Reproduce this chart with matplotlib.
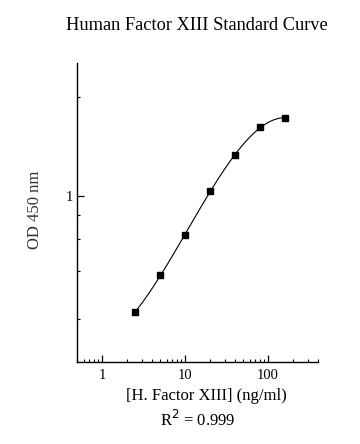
import numpy as np
import matplotlib
matplotlib.use("Agg")
from matplotlib import pyplot as plt
from matplotlib.ticker import FixedLocator, NullFormatter, LogLocator

# standard points (ng/ml) and OD 450 nm readings
conc = [2.5, 5, 10, 20, 40, 80, 160]
od = [0.25, 0.389, 0.629, 1.06, 1.64, 2.28, 2.56]

x_ticks = [1, 10, 100]
x_labels = ["1", "10", "100"]
y_major = [1]
y_minor = [0.23, 0.41, 0.6, 0.8, 3.3]

plt.rcParams['font.family'] = ['Liberation Serif', 'DejaVu Serif']

fig = plt.figure(figsize=(3.6, 4.44), dpi=100)
ax = fig.add_axes([0.2147, 0.1854, 0.6683, 0.6734])

# fitted curve (cubic in log-log space)
lx = np.log10(conc)
ly = np.log10(od)
coef = np.polyfit(lx, ly, 3)
xs = np.linspace(lx[0], lx[-1], 200)
ax.plot(10 ** xs, 10 ** np.polyval(coef, xs), color='black', lw=0.8)
ax.plot(conc, od, 's', color='black', markersize=4.3)

ax.set_xscale('log')
ax.set_yscale('log')
ax.set_xlim(0.5, 400)
ax.set_ylim(0.138, 4.95)

ax.set_xticks(x_ticks)
ax.set_xticklabels(x_labels)
ax.xaxis.set_minor_locator(LogLocator(base=10, subs=np.arange(2, 10)))
ax.xaxis.set_minor_formatter(NullFormatter())

ax.yaxis.set_major_locator(FixedLocator(y_major))
ax.set_yticklabels(["1"])
ax.yaxis.set_minor_locator(FixedLocator(y_minor))
ax.yaxis.set_minor_formatter(NullFormatter())

for s in ['top', 'right']:
    ax.spines[s].set_visible(False)
for s in ['left', 'bottom']:
    ax.spines[s].set_linewidth(1.0)

ax.tick_params(which='major', direction='in', length=5, width=0.9, labelsize=10.5)
ax.tick_params(axis='x', which='major', pad=5.5)
ax.tick_params(axis='y', which='major', pad=3)
ax.tick_params(which='minor', direction='in', length=2.5, width=0.8)

fig.text(0.547, 0.943, "Human Factor XIII Standard Curve", ha='center', va='center', fontsize=13.2)
fig.text(0.096, 0.527, "OD 450 nm", rotation=90, ha='center', va='center', fontsize=12, color='#333333')
fig.text(0.574, 0.107, "[H. Factor XIII] (ng/ml)", ha='center', va='center', fontsize=12)
fig.text(0.549, 0.055, "R$^2$ = 0.999", ha='center', va='center', fontsize=12)

fig.savefig("out.png", dpi=100)
